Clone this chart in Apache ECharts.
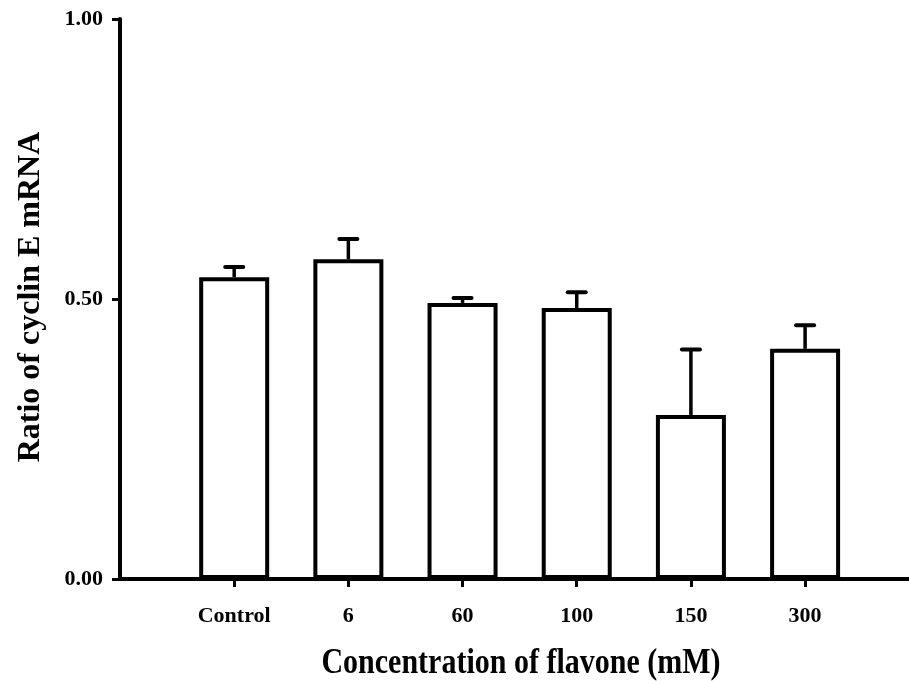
<!DOCTYPE html>
<html>
<head>
<meta charset="utf-8">
<script src="https://cdn.jsdelivr.net/npm/echarts@6/dist/echarts.min.js"></script>
<style>html,body{margin:0;padding:0;background:#fff}#c{width:909px;height:681px}</style>
</head>
<body>
<div id="c"></div>
<script>
var categories = ['Control', '6', '60', '100', '150', '300'];
var means = [0.539, 0.571, 0.493, 0.484, 0.293, 0.411];
var errors = [0.018, 0.036, 0.009, 0.028, 0.117, 0.042];
var xTitle = 'Concentration of flavone (mM)';
var yTitle = 'Ratio of cyclin E mRNA';

var FONT = '"Liberation Serif", "Times New Roman", serif';
var positions = categories.map(function (c, i) { return i + 1; });
var barData = means.map(function (v, i) { return [positions[i], v]; });
var errData = means.map(function (v, i) { return [positions[i], v, errors[i]]; });

var chart = echarts.init(document.getElementById('c'));
chart.setOption({
  animation: false,
  backgroundColor: '#fff',
  grid: { left: 120, right: 0, top: 19, bottom: 102 },
  xAxis: {
    type: 'value', min: 0, max: 6.91,
    splitLine: { show: false },
    axisLine: { show: true, lineStyle: { color: '#000', width: 4 } },
    axisTick: { show: true, length: 8, lineStyle: { color: '#000', width: 3 }, customValues: positions },
    axisLabel: {
      customValues: positions,
      margin: 26, color: '#000', fontFamily: FONT, fontWeight: 'bold', fontSize: 22,
      formatter: function (v) { var i = Math.round(v) - 1; return categories[i] || ''; }
    }
  },
  yAxis: {
    type: 'value', min: 0, max: 1, interval: 0.5,
    splitLine: { show: false },
    axisLine: { show: true, lineStyle: { color: '#000', width: 4 } },
    axisTick: { show: true, length: 8, lineStyle: { color: '#000', width: 3 } },
    axisLabel: {
      margin: 17, color: '#000', fontFamily: FONT, fontWeight: 'bold', fontSize: 22,
      formatter: function (v) { return v.toFixed(2); }
    }
  },
  graphic: [
    { type: 'text', x: 521, y: 664, scaleY: 1.2, style: { text: xTitle, font: 'bold 30px ' + FONT, fill: '#000', align: 'center', verticalAlign: 'middle' } },
    { type: 'text', x: 31, y: 297, rotation: Math.PI / 2, style: { text: yTitle, font: 'bold 32px ' + FONT, fill: '#000', align: 'center', verticalAlign: 'middle' } }
  ],
  series: [
    {
      type: 'custom',
      z: 1,
      data: errData,
      renderItem: function (params, api) {
        var x = api.value(0), v = api.value(1), e = api.value(2);
        var p0 = api.coord([x, v]);
        var p1 = api.coord([x, v + e]);
        return {
          type: 'group',
          children: [
            { type: 'line', shape: { x1: p0[0], y1: p0[1], x2: p1[0], y2: p1[1] }, style: { stroke: '#000', lineWidth: 3.5 } },
            { type: 'line', shape: { x1: p1[0] - 9, y1: p1[1], x2: p1[0] + 9, y2: p1[1] }, style: { stroke: '#000', lineWidth: 4, lineCap: 'round' } }
          ]
        };
      }
    },
    {
      type: 'bar',
      z: 2,
      data: barData,
      barWidth: 70,
      itemStyle: { color: '#fff', borderColor: '#000', borderWidth: 4 }
    }
  ]
});
</script>
</body>
</html>
